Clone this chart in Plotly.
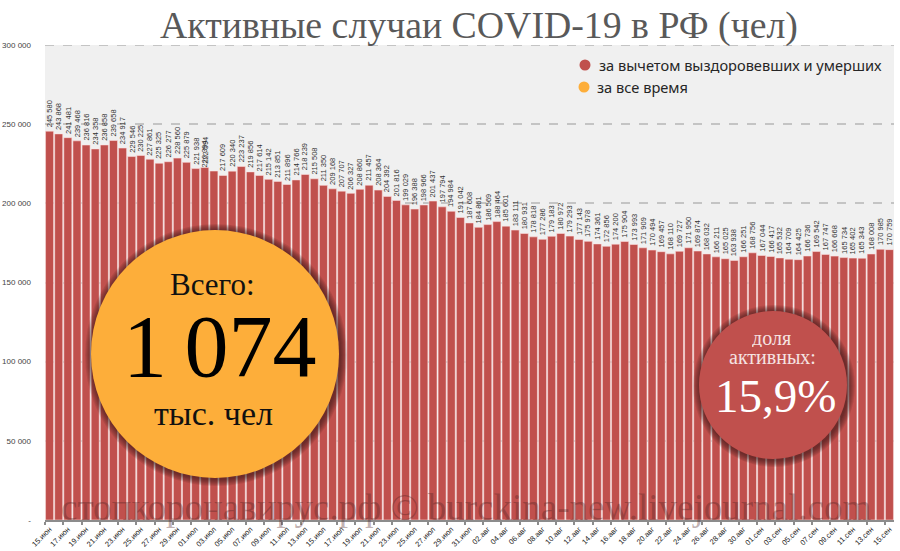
import plotly.graph_objects as go

tick_labels = ["15.июн","17.июн","19.июн","21.июн","23.июн","25.июн","27.июн","29.июн",
 "01.июл","03.июл","05.июл","07.июл","09.июл","11.июл","13.июл","15.июл","17.июл","19.июл",
 "21.июл","23.июл","25.июл","27.июл","29.июл","31.июл","02.авг","04.авг","06.авг","08.авг",
 "10.авг","12.авг","14.авг","16.авг","18.авг","20.авг","22.авг","24.авг","26.авг","28.авг",
 "30.авг","01.сен","03.сен","05.сен","07.сен","09.сен","11.сен","13.сен","15.сен"]
active = [245580,243868,241481,239468,236816,234358,236858,239658,234917,229546,230225,227861,
 225325,226277,228560,225879,221938,222594,220394,217609,220340,223237,219856,217614,215142,
 213851,211896,214766,218239,215508,211350,209168,207707,206327,208860,211457,208364,204392,
 201816,199029,196388,198966,201437,197794,194984,191042,187608,184861,186569,188464,185601,
 183111,180931,178818,177286,179183,180972,179293,177143,175978,174361,172856,174200,175904,
 173993,171909,170494,169457,168110,169727,171950,169874,168032,166211,165025,163938,166251,
 168756,167044,166417,165532,164709,164425,166736,169542,167747,166668,165734,165402,165343,
 168008,170985,170759]
y_ticks = [0,50000,100000,150000,200000,250000,300000]
y_labels = ["-","50 000","100 000","150 000","200 000","250 000","300 000"]

W, H = 900, 551
L, R, T, B = 45, 6, 45, 31
RED, ORANGE = "#c0504d", "#fdae3a"
day = list(range(len(active)))

def px(x): return (x - L) / (W - L - R)
def py(y): return 1 - (y - T) / (H - T - B)

fig = go.Figure(go.Bar(x=day, y=active, marker=dict(color=RED, line=dict(color="rgba(255,225,225,0.55)", width=1)),
                       width=0.88, showlegend=False, hoverinfo="y"))

def circle(cx, cy, r, **kw):
    return dict(type="circle", xref="paper", yref="paper", x0=px(cx-r), x1=px(cx+r),
                y0=py(cy+r), y1=py(cy-r), layer="above", **kw)

shapes = [dict(type="line", xref="paper", yref="y", x0=0, x1=1, y0=y_ticks[-1], y1=y_ticks[-1],
               layer="above", line=dict(color="#c4c4c4", width=2, dash="dash"))]
for cx, cy, r, col in [(215, 354, 124, ORANGE), (773, 385, 74, RED)]:
    for k in range(7, 0, -1):
        shapes.append(circle(cx+1, cy+1, r+k, fillcolor="rgba(50,15,15,0.11)", line=dict(width=0)))
    shapes.append(circle(cx, cy, r, fillcolor=col, line=dict(width=0)))
shapes.append(circle(585, 65, 5.5, fillcolor=RED, line=dict(width=0)))
shapes.append(circle(584, 87, 5.5, fillcolor=ORANGE, line=dict(width=0)))

ann = []
for i, v in enumerate(active):
    s = f"{v:,}".replace(",", " ")
    ann.append(dict(x=i, y=v, xref="x", yref="y", text=s, textangle=-90, showarrow=False,
                    xanchor="center", yanchor="bottom", yshift=3, xshift=-9 if i == 18 else 0,
                    font=dict(family="Liberation Sans", size=7.5, color="#333333"), borderpad=0))

def label(cx, cy, text, size, color, family="Liberation Serif", xanchor="center", height=None):
    a = dict(x=px(cx), y=py(cy), xref="paper", yref="paper", text=text, showarrow=False,
             xanchor=xanchor, yanchor="middle", font=dict(family=family, size=size, color=color))
    if height:
        a["height"] = height
    ann.append(a)

label(479, 25, "Активные случаи COVID-19 в РФ (чел)", 37.8, "#595959")
label(597, 65, "за вычетом выздоровевших и умерших", 14.6, "#262626", "Noto Sans", "left")
label(595, 87, "за все время", 14.6, "#262626", "Noto Sans", "left")
label(212, 284, "Всего:", 31, "#111111", height=32)
label(220, 346, "1\u2009074", 88, "#000000", height=78)
label(213, 413, "тыс. чел", 34, "#111111")
label(771, 338, "доля", 20, "#f5e3e2", height=18)
label(772, 357, "активных:", 20, "#f5e3e2", height=18)
label(775, 396, "15,9%", 47, "#ffffff", height=50)
label(466, 507, "стопкоронавирус.рф © burckina-new.livejournal.com", 37, "rgba(80,35,35,0.36)")

fig.update_layout(
    width=W, height=H, autosize=False, margin=dict(l=L, r=R, t=T, b=B, autoexpand=False),
    paper_bgcolor="white", plot_bgcolor="#f0f0f0", shapes=shapes, annotations=ann, showlegend=False,
    xaxis=dict(range=[-0.5, len(active)-0.5], tickmode="array", tickvals=day[::2], ticktext=tick_labels,
               tickangle=-45, ticklen=0, ticks="", showgrid=False, showline=True, linecolor="#8c8c8c", linewidth=2,
               zeroline=False, tickfont=dict(family="Liberation Sans", size=7.5, color="#222222"),
               minor=dict(tickmode="array", tickvals=[d-0.5 for d in day[::2]], ticks="outside", ticklen=3,
                          tickcolor="#8c8c8c", tickwidth=2, showgrid=False)),
    yaxis=dict(range=[0, 300000], tickmode="array", tickvals=y_ticks, ticktext=y_labels, ticks="",
               ticklabelstandoff=13, automargin=False, showline=False, zeroline=False, showgrid=True,
               gridcolor="#c4c4c4", griddash="dash", gridwidth=2,
               tickfont=dict(family="Liberation Sans", size=8, color="#444444")),
)
fig.write_html("out.html", config={"displayModeBar": False},
               post_script="document.body.style.margin='0';document.body.style.overflow='hidden';")
